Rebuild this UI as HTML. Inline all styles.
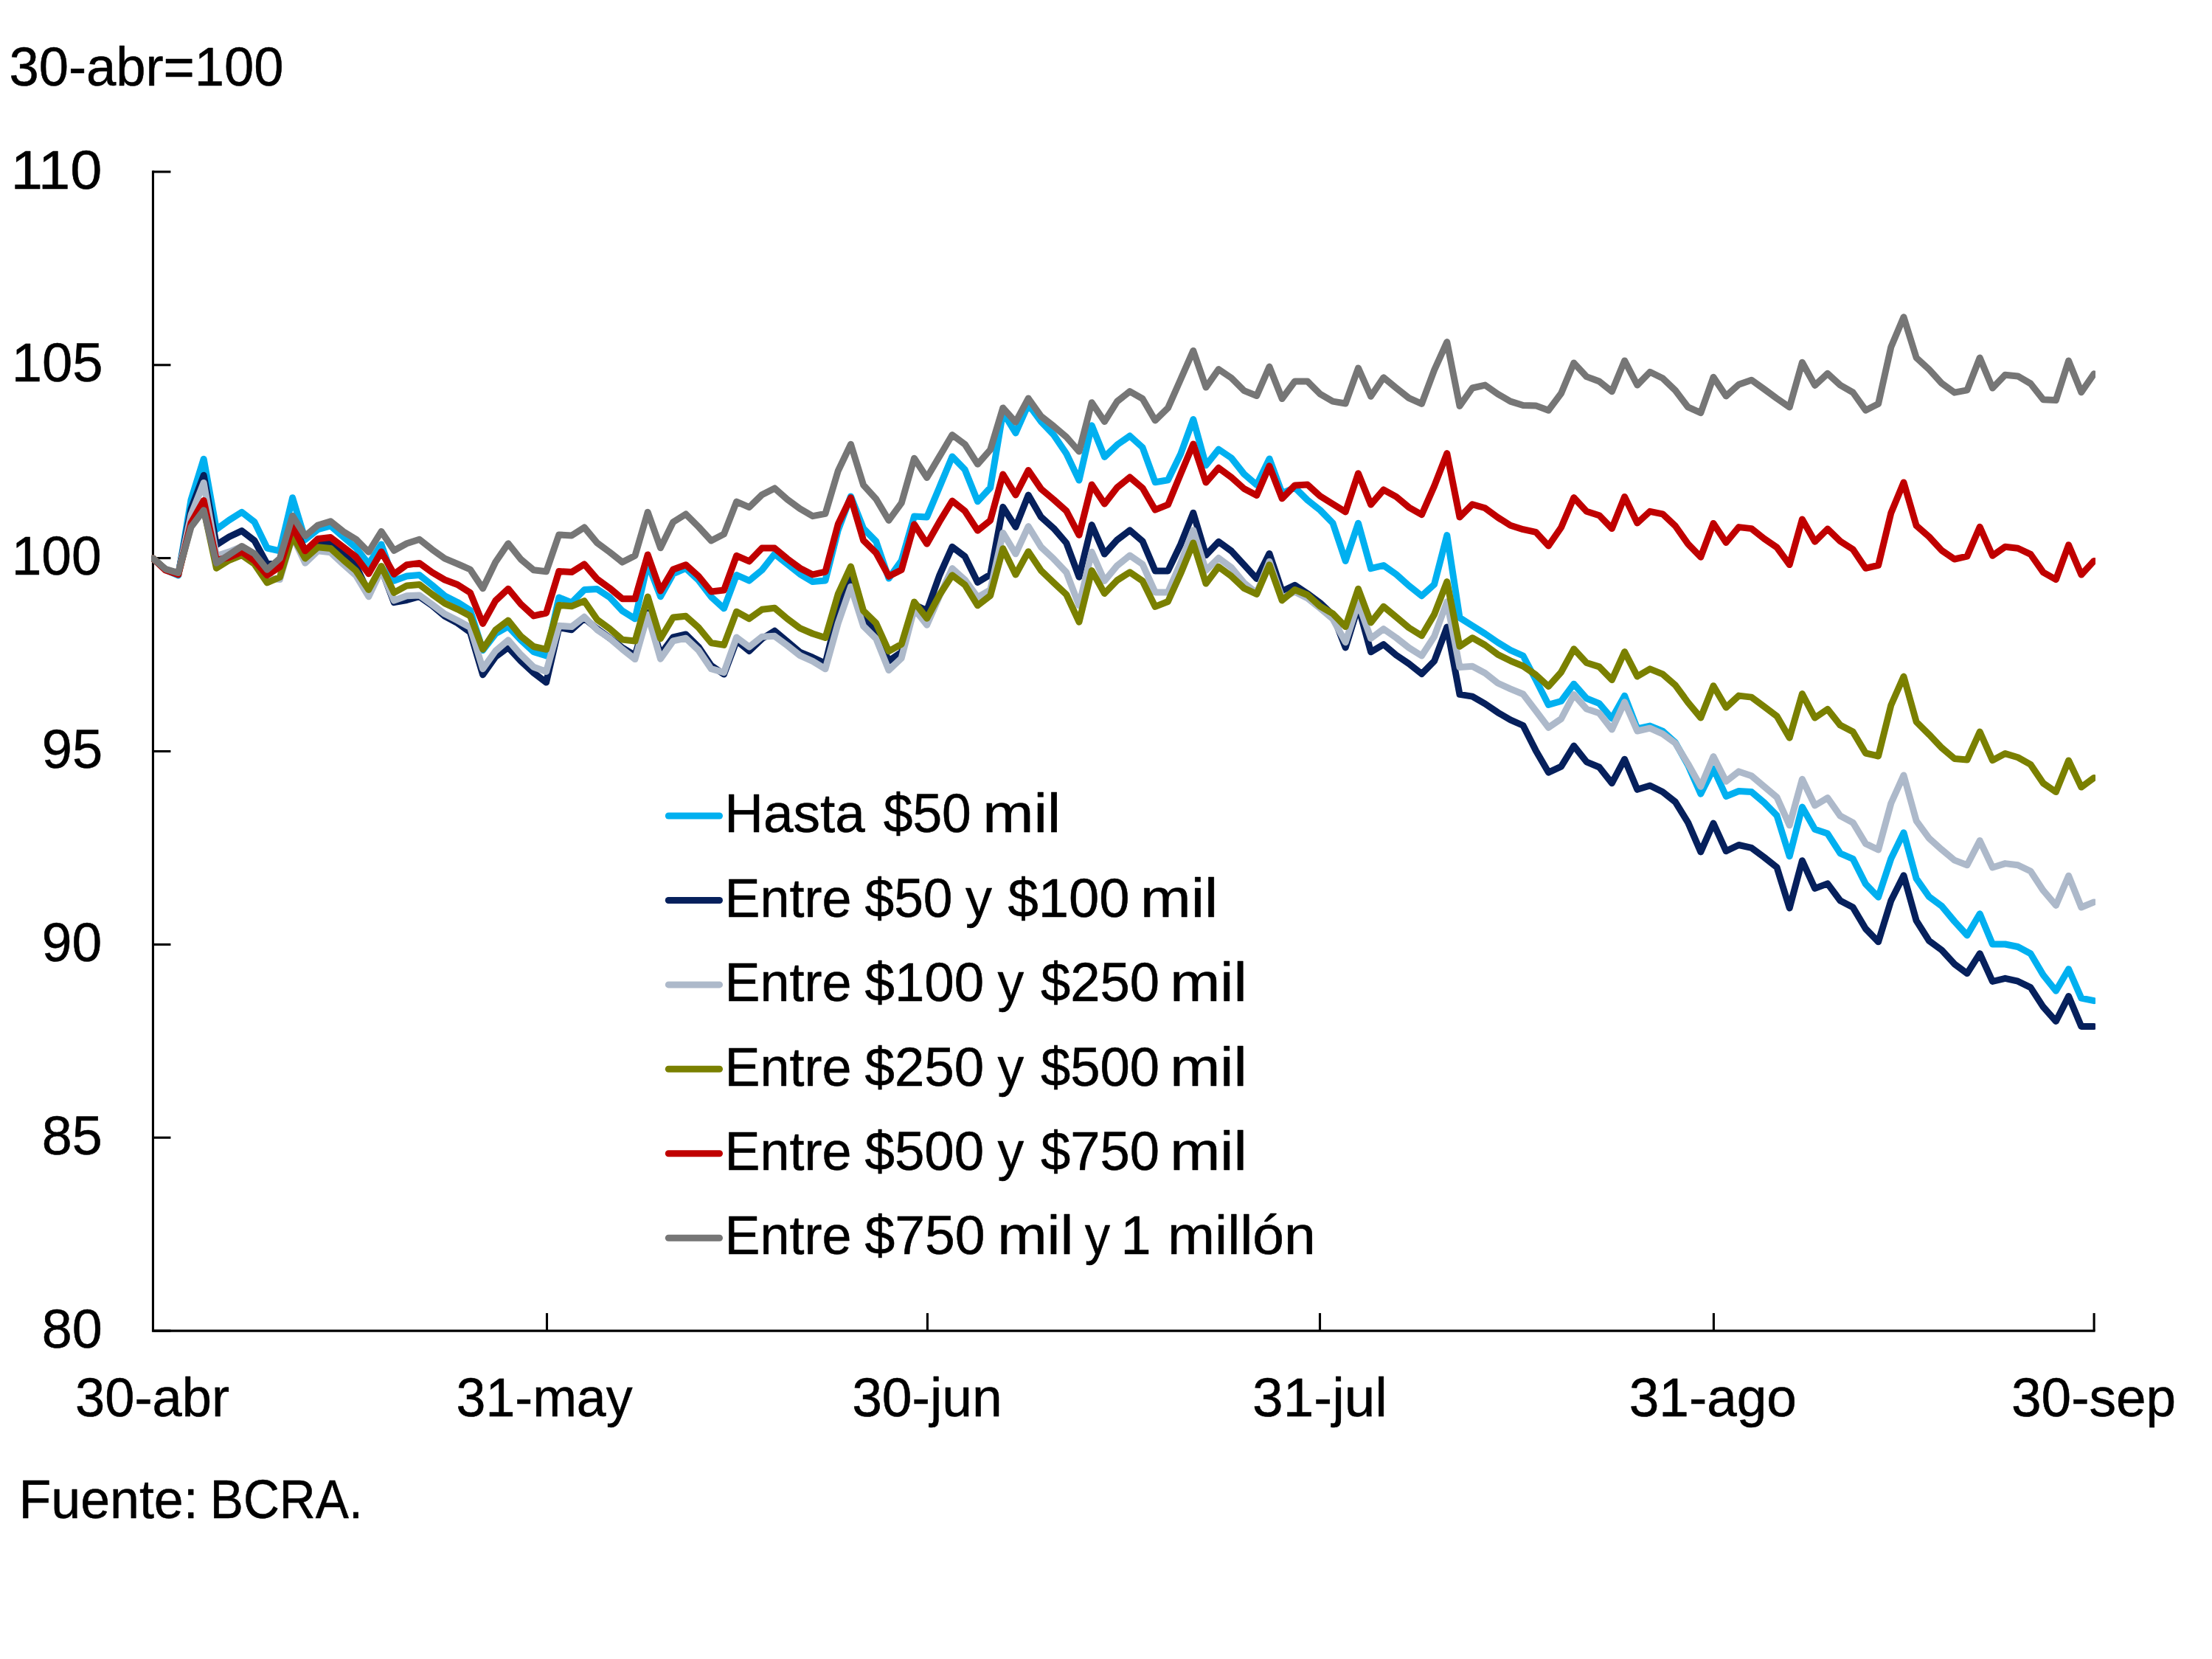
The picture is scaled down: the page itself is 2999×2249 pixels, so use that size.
<!DOCTYPE html>
<html lang="es"><head><meta charset="utf-8"><title>Gráfico</title>
<style>html,body{margin:0;padding:0;background:#fff;overflow:hidden}body{width:2999px;height:2249px;overflow:hidden}svg{display:block}</style>
</head><body>
<svg width="2999" height="2249" viewBox="0 0 2999 2249">
<defs><clipPath id="plot"><rect x="205" y="200" width="2636" height="1620"/></clipPath></defs>
<rect width="2999" height="2249" fill="#fff"/>
<g stroke="#000" stroke-width="3.1" fill="none" stroke-linecap="butt">
<path d="M207.45 231.35 V1804.1 H2840.6" stroke-linejoin="miter"/>
<path d="M207.45 232.9 h24"/>
<path d="M207.45 494.8 h24"/>
<path d="M207.45 756.6 h24"/>
<path d="M207.45 1018.5 h24"/>
<path d="M207.45 1280.4 h24"/>
<path d="M207.45 1542.2 h24"/>
<path d="M207.45 1804.1 h24"/>
<path d="M741.5 1804.1 v-24"/>
<path d="M1257.4 1804.1 v-24"/>
<path d="M1789.5 1804.1 v-24"/>
<path d="M2323.4 1804.1 v-24"/>
<path d="M2839.1 1804.1 v-24"/>
</g>
<g fill="none" stroke-width="9" stroke-linejoin="round" stroke-linecap="round" clip-path="url(#plot)">
<polyline stroke="#00B0F0" points="207.4,757.0 224.6,772.6 241.8,780.0 259.0,677.5 276.2,622.2 293.4,717.7 310.6,705.1 327.8,694.3 345.0,707.6 362.2,743.0 379.4,746.8 396.6,674.7 413.8,731.6 431.0,717.7 448.2,712.8 465.4,728.0 482.6,742.6 499.8,764.6 517.0,737.9 534.2,787.2 551.5,780.9 568.6,779.4 585.8,793.2 603.0,807.7 620.2,816.4 637.5,827.4 654.6,881.6 671.8,859.2 689.0,849.4 706.2,867.8 723.5,883.8 740.6,888.9 757.8,810.0 775.0,817.0 792.2,799.6 809.5,798.4 826.6,809.7 843.8,828.2 861.0,838.8 878.2,763.6 895.5,808.7 912.6,778.0 929.8,770.5 947.0,786.5 964.2,809.1 981.5,824.8 998.6,779.5 1015.8,787.1 1033.0,772.9 1050.2,751.0 1067.5,764.8 1084.6,778.3 1101.8,788.6 1119.0,786.9 1136.2,719.0 1153.5,672.9 1170.6,716.3 1187.8,734.0 1205.0,784.1 1222.2,760.0 1239.5,699.9 1256.7,701.0 1273.8,660.2 1291.0,618.9 1308.2,636.7 1325.5,679.8 1342.7,661.1 1359.8,558.9 1377.0,587.0 1394.2,548.1 1411.5,571.6 1428.7,589.7 1445.8,615.0 1463.0,651.1 1480.2,576.8 1497.5,619.4 1514.7,602.9 1531.8,591.0 1549.0,606.5 1566.2,653.7 1583.5,650.8 1600.7,615.5 1617.8,568.5 1635.0,630.8 1652.2,609.1 1669.5,620.9 1686.7,642.6 1703.8,657.4 1721.0,621.9 1738.2,668.6 1755.5,661.0 1772.7,678.0 1789.8,691.5 1807.0,709.1 1824.2,760.4 1841.5,709.2 1858.6,770.7 1875.8,766.5 1893.0,778.7 1910.2,794.0 1927.5,807.8 1944.6,792.2 1961.8,725.5 1979.0,837.4 1996.2,848.3 2013.5,859.1 2030.6,870.9 2047.8,881.3 2065.0,889.0 2082.2,921.5 2099.4,955.4 2116.6,950.5 2133.8,927.2 2151.0,946.8 2168.2,953.6 2185.4,973.9 2202.6,943.2 2219.8,987.8 2237.0,984.1 2254.2,991.1 2271.4,1006.6 2288.6,1037.3 2305.8,1076.2 2323.0,1041.9 2340.2,1079.5 2357.4,1072.5 2374.6,1073.5 2391.8,1088.0 2409.0,1105.5 2426.2,1160.8 2443.4,1094.0 2460.6,1124.2 2477.8,1130.1 2495.0,1156.8 2512.2,1164.4 2529.4,1198.4 2546.6,1216.2 2563.8,1164.0 2581.0,1128.7 2598.2,1191.2 2615.4,1215.6 2632.6,1228.3 2649.8,1249.0 2667.0,1267.9 2684.2,1238.8 2701.4,1280.0 2718.6,1280.0 2735.8,1283.5 2753.0,1292.8 2770.2,1321.7 2787.4,1343.3 2804.6,1313.7 2821.8,1353.1 2839.0,1356.7"/>
<polyline stroke="#06205C" points="207.4,757.0 224.6,772.1 241.8,778.0 259.0,690.0 276.2,644.3 293.4,738.6 310.6,727.8 327.8,719.6 345.0,732.9 362.2,764.6 379.4,764.6 396.6,708.0 413.8,747.0 431.0,736.1 448.2,736.7 465.4,751.3 482.6,767.0 499.8,803.8 517.0,771.2 534.2,816.7 551.5,813.5 568.6,808.7 585.8,820.7 603.0,835.2 620.2,844.6 637.5,857.0 654.6,914.7 671.8,890.5 689.0,877.7 706.2,896.2 723.5,912.2 740.6,925.1 757.8,850.8 775.0,853.7 792.2,838.1 809.5,852.5 826.6,865.0 843.8,878.0 861.0,888.5 878.2,830.5 895.5,887.1 912.6,863.8 929.8,859.9 947.0,876.9 964.2,902.2 981.5,914.1 998.6,868.6 1015.8,882.5 1033.0,866.0 1050.2,855.2 1067.5,869.7 1084.6,884.1 1101.8,891.2 1119.0,899.3 1136.2,829.0 1153.5,785.2 1170.6,839.4 1187.8,857.0 1205.0,896.0 1222.2,884.1 1239.5,819.8 1256.7,827.6 1273.8,779.8 1291.0,741.3 1308.2,754.4 1325.5,789.4 1342.7,778.9 1359.8,687.3 1377.0,714.4 1394.2,671.1 1411.5,700.9 1428.7,716.3 1445.8,736.1 1463.0,782.2 1480.2,711.5 1497.5,751.1 1514.7,731.8 1531.8,718.9 1549.0,733.6 1566.2,773.9 1583.5,773.9 1600.7,738.0 1617.8,695.2 1635.0,752.6 1652.2,734.4 1669.5,747.0 1686.7,765.8 1703.8,784.5 1721.0,750.4 1738.2,801.6 1755.5,793.2 1772.7,804.7 1789.8,817.3 1807.0,833.6 1824.2,877.9 1841.5,821.9 1858.6,883.8 1875.8,873.6 1893.0,888.1 1910.2,899.8 1927.5,913.6 1944.6,896.2 1961.8,850.1 1979.0,941.4 1996.2,944.1 2013.5,954.1 2030.6,965.8 2047.8,975.8 2065.0,983.5 2082.2,1017.4 2099.4,1047.1 2116.6,1039.1 2133.8,1011.1 2151.0,1032.8 2168.2,1040.0 2185.4,1061.7 2202.6,1029.2 2219.8,1070.3 2237.0,1065.0 2254.2,1073.5 2271.4,1087.1 2288.6,1115.1 2305.8,1154.9 2323.0,1116.0 2340.2,1153.8 2357.4,1145.5 2374.6,1149.4 2391.8,1162.1 2409.0,1175.7 2426.2,1231.0 2443.4,1166.7 2460.6,1204.4 2477.8,1197.9 2495.0,1221.0 2512.2,1230.1 2529.4,1259.0 2546.6,1276.8 2563.8,1221.0 2581.0,1186.7 2598.2,1248.2 2615.4,1275.3 2632.6,1288.0 2649.8,1306.8 2667.0,1319.6 2684.2,1292.7 2701.4,1330.5 2718.6,1326.3 2735.8,1330.2 2753.0,1338.6 2770.2,1365.1 2787.4,1384.5 2804.6,1350.6 2821.8,1391.5 2839.0,1391.5"/>
<polyline stroke="#ADB9CA" points="207.4,757.0 224.6,772.1 241.8,778.0 259.0,698.0 276.2,654.4 293.4,753.8 310.6,748.1 327.8,741.0 345.0,751.0 362.2,784.0 379.4,785.4 396.6,727.0 413.8,763.3 431.0,746.8 448.2,748.9 465.4,765.0 482.6,780.2 499.8,808.8 517.0,772.6 534.2,814.0 551.5,807.7 568.6,806.9 585.8,819.3 603.0,832.3 620.2,841.0 637.5,850.5 654.6,906.7 671.8,882.5 689.0,867.8 706.2,887.6 723.5,904.2 740.6,910.5 757.8,848.3 775.0,849.6 792.2,836.3 809.5,853.7 826.6,865.4 843.8,880.1 861.0,893.6 878.2,833.3 895.5,893.2 912.6,868.8 929.8,865.2 947.0,881.4 964.2,906.7 981.5,911.6 998.6,864.1 1015.8,877.0 1033.0,863.3 1050.2,862.3 1067.5,875.1 1084.6,888.6 1101.8,896.4 1119.0,906.8 1136.2,845.0 1153.5,795.2 1170.6,848.8 1187.8,865.8 1205.0,908.6 1222.2,892.2 1239.5,825.4 1256.7,847.2 1273.8,808.0 1291.0,770.6 1308.2,786.0 1325.5,809.6 1342.7,799.7 1359.8,722.4 1377.0,750.8 1394.2,713.6 1411.5,741.6 1428.7,757.8 1445.8,775.9 1463.0,820.8 1480.2,748.2 1497.5,787.5 1514.7,766.7 1531.8,753.0 1549.0,764.9 1566.2,802.9 1583.5,802.9 1600.7,763.0 1617.8,718.7 1635.0,773.3 1652.2,756.5 1669.5,769.4 1686.7,790.2 1703.8,804.0 1721.0,761.2 1738.2,810.6 1755.5,802.3 1772.7,811.0 1789.8,824.6 1807.0,839.0 1824.2,870.7 1841.5,817.3 1858.6,865.5 1875.8,852.6 1893.0,864.6 1910.2,878.1 1927.5,889.0 1944.6,862.7 1961.8,815.7 1979.0,904.4 1996.2,903.3 2013.5,912.5 2030.6,926.0 2047.8,933.8 2065.0,941.0 2082.2,963.6 2099.4,986.3 2116.6,974.5 2133.8,941.6 2151.0,960.9 2168.2,966.8 2185.4,988.9 2202.6,951.8 2219.8,991.0 2237.0,987.2 2254.2,994.8 2271.4,1007.5 2288.6,1035.5 2305.8,1066.2 2323.0,1025.6 2340.2,1059.2 2357.4,1045.9 2374.6,1051.8 2391.8,1066.3 2409.0,1080.7 2426.2,1118.8 2443.4,1056.3 2460.6,1092.0 2477.8,1081.7 2495.0,1106.1 2512.2,1115.2 2529.4,1143.6 2546.6,1152.0 2563.8,1089.0 2581.0,1050.9 2598.2,1112.9 2615.4,1136.4 2632.6,1151.8 2649.8,1166.1 2667.0,1172.7 2684.2,1139.6 2701.4,1176.0 2718.6,1170.6 2735.8,1172.7 2753.0,1181.0 2770.2,1207.2 2787.4,1227.4 2804.6,1187.2 2821.8,1230.0 2839.0,1222.9"/>
<polyline stroke="#7A8000" points="207.4,757.0 224.6,772.1 241.8,778.0 259.0,712.0 276.2,690.0 293.4,770.3 310.6,759.5 327.8,752.5 345.0,764.6 362.2,789.9 379.4,782.3 396.6,726.6 413.8,757.0 431.0,741.8 448.2,743.4 465.4,759.0 482.6,773.7 499.8,799.4 517.0,767.5 534.2,803.4 551.5,793.9 568.6,792.4 585.8,805.5 603.0,817.8 620.2,825.8 637.5,835.0 654.6,880.2 671.8,854.2 689.0,841.1 706.2,862.5 723.5,876.5 740.6,880.3 757.8,820.4 775.0,821.8 792.2,814.7 809.5,839.8 826.6,852.4 843.8,867.1 861.0,869.0 878.2,809.0 895.5,865.8 912.6,837.0 929.8,835.3 947.0,850.7 964.2,871.5 981.5,874.4 998.6,829.2 1015.8,838.7 1033.0,826.3 1050.2,824.2 1067.5,838.9 1084.6,851.6 1101.8,859.0 1119.0,864.5 1136.2,805.4 1153.5,768.0 1170.6,828.0 1187.8,844.8 1205.0,882.9 1222.2,873.3 1239.5,816.0 1256.7,838.3 1273.8,806.5 1291.0,779.8 1308.2,792.8 1325.5,820.8 1342.7,807.4 1359.8,743.7 1377.0,779.0 1394.2,747.7 1411.5,773.5 1428.7,790.0 1445.8,806.0 1463.0,843.2 1480.2,773.5 1497.5,804.5 1514.7,786.6 1531.8,775.7 1549.0,787.5 1566.2,822.4 1583.5,815.5 1600.7,777.5 1617.8,736.0 1635.0,791.1 1652.2,768.3 1669.5,781.2 1686.7,797.4 1703.8,805.4 1721.0,765.8 1738.2,813.9 1755.5,799.5 1772.7,806.5 1789.8,821.8 1807.0,831.8 1824.2,849.6 1841.5,798.3 1858.6,844.0 1875.8,822.2 1893.0,836.5 1910.2,851.0 1927.5,861.8 1944.6,832.9 1961.8,788.6 1979.0,876.3 1996.2,864.7 2013.5,874.5 2030.6,887.2 2047.8,895.8 2065.0,903.0 2082.2,914.8 2099.4,930.5 2116.6,911.2 2133.8,879.8 2151.0,898.5 2168.2,903.9 2185.4,921.7 2202.6,883.6 2219.8,916.9 2237.0,906.9 2254.2,913.9 2271.4,928.8 2288.6,952.3 2305.8,973.0 2323.0,929.7 2340.2,959.1 2357.4,943.1 2374.6,945.1 2391.8,957.8 2409.0,970.8 2426.2,1000.2 2443.4,940.6 2460.6,973.1 2477.8,961.4 2495.0,983.1 2512.2,992.1 2529.4,1021.0 2546.6,1025.0 2563.8,956.0 2581.0,917.1 2598.2,978.6 2615.4,995.7 2632.6,1013.8 2649.8,1028.4 2667.0,1030.1 2684.2,992.0 2701.4,1030.7 2718.6,1021.6 2735.8,1026.8 2753.0,1036.4 2770.2,1061.7 2787.4,1073.6 2804.6,1031.0 2821.8,1067.1 2839.0,1054.5"/>
<polyline stroke="#C00000" points="207.4,757.0 224.6,773.1 241.8,779.0 259.0,709.0 276.2,678.5 293.4,759.5 310.6,755.7 327.8,748.1 345.0,760.1 362.2,779.7 379.4,768.4 396.6,713.9 413.8,746.8 431.0,730.4 448.2,728.6 465.4,741.5 482.6,754.9 499.8,777.7 517.0,748.0 534.2,778.3 551.5,765.7 568.6,763.4 585.8,775.9 603.0,786.0 620.2,792.5 637.5,803.5 654.6,845.4 671.8,814.4 689.0,798.2 706.2,819.0 723.5,834.9 740.6,831.0 757.8,774.6 775.0,775.6 792.2,764.9 809.5,785.0 826.6,797.3 843.8,811.7 861.0,811.7 878.2,751.9 895.5,801.1 912.6,771.9 929.8,765.7 947.0,781.0 964.2,802.0 981.5,800.0 998.6,753.3 1015.8,760.9 1033.0,743.1 1050.2,743.1 1067.5,757.5 1084.6,770.2 1101.8,778.9 1119.0,775.1 1136.2,710.8 1153.5,674.7 1170.6,732.5 1187.8,749.5 1205.0,781.2 1222.2,772.6 1239.5,710.8 1256.7,737.2 1273.8,707.2 1291.0,679.0 1308.2,692.7 1325.5,719.2 1342.7,705.4 1359.8,643.0 1377.0,671.0 1394.2,637.6 1411.5,662.9 1428.7,677.4 1445.8,692.7 1463.0,725.3 1480.2,656.9 1497.5,683.0 1514.7,660.7 1531.8,647.0 1549.0,661.6 1566.2,691.2 1583.5,684.2 1600.7,642.6 1617.8,602.0 1635.0,654.1 1652.2,634.3 1669.5,647.2 1686.7,662.5 1703.8,671.4 1721.0,631.8 1738.2,675.8 1755.5,658.0 1772.7,657.0 1789.8,672.5 1807.0,683.3 1824.2,693.9 1841.5,641.7 1858.6,684.0 1875.8,664.0 1893.0,673.4 1910.2,687.8 1927.5,697.7 1944.6,658.9 1961.8,614.6 1979.0,701.0 1996.2,683.8 2013.5,688.8 2030.6,701.4 2047.8,712.3 2065.0,717.7 2082.2,721.3 2099.4,740.0 2116.6,715.0 2133.8,674.6 2151.0,693.3 2168.2,698.7 2185.4,716.5 2202.6,673.4 2219.8,709.0 2237.0,693.3 2254.2,696.8 2271.4,713.0 2288.6,737.4 2305.8,755.2 2323.0,709.4 2340.2,735.5 2357.4,714.6 2374.6,716.6 2391.8,730.2 2409.0,742.0 2426.2,765.5 2443.4,704.0 2460.6,734.2 2477.8,717.1 2495.0,733.8 2512.2,744.7 2529.4,770.3 2546.6,766.4 2563.8,695.5 2581.0,654.0 2598.2,712.7 2615.4,727.6 2632.6,746.2 2649.8,758.0 2667.0,754.1 2684.2,714.3 2701.4,753.3 2718.6,741.2 2735.8,743.2 2753.0,751.4 2770.2,775.8 2787.4,785.6 2804.6,738.7 2821.8,779.1 2839.0,760.4"/>
<polyline stroke="#767676" points="207.4,757.0 224.6,771.6 241.8,776.6 259.0,714.5 276.2,691.8 293.4,763.3 310.6,751.9 327.8,740.5 345.0,750.6 362.2,772.2 379.4,757.0 396.6,699.4 413.8,726.6 431.0,712.0 448.2,706.7 465.4,720.6 482.6,731.0 499.8,748.3 517.0,720.5 534.2,746.3 551.5,736.8 568.6,731.2 585.8,744.8 603.0,757.1 620.2,764.3 637.5,772.0 654.6,797.8 671.8,762.0 689.0,736.8 706.2,758.3 723.5,772.8 740.6,774.8 757.8,724.9 775.0,726.0 792.2,715.0 809.5,735.8 826.6,748.5 843.8,762.1 861.0,753.3 878.2,694.3 895.5,742.8 912.6,707.8 929.8,697.0 947.0,714.1 964.2,732.9 981.5,724.1 998.6,680.1 1015.8,687.6 1033.0,670.7 1050.2,661.9 1067.5,677.1 1084.6,689.7 1101.8,699.7 1119.0,696.3 1136.2,638.5 1153.5,602.3 1170.6,657.5 1187.8,676.5 1205.0,705.4 1222.2,681.9 1239.5,621.3 1256.7,647.5 1273.8,618.6 1291.0,589.5 1308.2,602.3 1325.5,629.2 1342.7,609.6 1359.8,552.9 1377.0,572.2 1394.2,540.0 1411.5,564.4 1428.7,577.9 1445.8,592.4 1463.0,612.1 1480.2,545.7 1497.5,571.5 1514.7,544.1 1531.8,530.6 1549.0,540.5 1566.2,569.9 1583.5,553.1 1600.7,514.2 1617.8,475.4 1635.0,525.1 1652.2,500.6 1669.5,512.4 1686.7,529.6 1703.8,536.5 1721.0,497.1 1738.2,540.5 1755.5,517.0 1772.7,517.0 1789.8,534.1 1807.0,544.1 1824.2,547.0 1841.5,498.9 1858.6,537.3 1875.8,511.8 1893.0,526.0 1910.2,539.6 1927.5,547.4 1944.6,501.6 1961.8,463.6 1979.0,550.4 1996.2,526.0 2013.5,522.1 2030.6,534.1 2047.8,544.1 2065.0,549.5 2082.2,549.9 2099.4,556.3 2116.6,533.2 2133.8,492.0 2151.0,510.6 2168.2,517.0 2185.4,530.7 2202.6,488.9 2219.8,522.0 2237.0,504.3 2254.2,512.7 2271.4,529.3 2288.6,551.9 2305.8,559.7 2323.0,511.2 2340.2,536.9 2357.4,521.2 2374.6,515.2 2391.8,527.5 2409.0,540.1 2426.2,552.0 2443.4,491.3 2460.6,522.4 2477.8,506.4 2495.0,522.1 2512.2,532.0 2529.4,556.2 2546.6,547.4 2563.8,470.5 2581.0,429.8 2598.2,485.0 2615.4,500.7 2632.6,519.7 2649.8,532.2 2667.0,528.8 2684.2,485.0 2701.4,526.1 2718.6,508.2 2735.8,509.9 2753.0,520.0 2770.2,541.7 2787.4,542.5 2804.6,489.1 2821.8,531.8 2839.0,506.7"/>
</g>
<g fill="none" stroke-width="9" stroke-linecap="round">
<path stroke="#00B0F0" d="M906.3 1106 H975.5"/>
<path stroke="#06205C" d="M906.3 1220.5 H975.5"/>
<path stroke="#ADB9CA" d="M906.3 1334.9 H975.5"/>
<path stroke="#7A8000" d="M906.3 1449.3 H975.5"/>
<path stroke="#C00000" d="M906.3 1563.7 H975.5"/>
<path stroke="#767676" d="M906.3 1678.2 H975.5"/>
</g>
<g font-family="'Liberation Sans', Arial, sans-serif" font-size="75" fill="#000" stroke="#000" stroke-width="0.55" stroke-linejoin="round">
<text y="116.3"><tspan x="12.51" textLength="372.03" lengthAdjust="spacingAndGlyphs">30-abr=100</tspan></text>
<text y="255.5"><tspan x="14.73" textLength="123.53" lengthAdjust="spacingAndGlyphs">110</tspan></text>
<text y="517.4"><tspan x="15.66" textLength="123.75" lengthAdjust="spacingAndGlyphs">105</tspan></text>
<text y="779.2"><tspan x="15.73" textLength="121.96" lengthAdjust="spacingAndGlyphs">100</tspan></text>
<text y="1041.1"><tspan x="56.74" textLength="82.37" lengthAdjust="spacingAndGlyphs">95</tspan></text>
<text y="1303.0"><tspan x="56.77" textLength="81.41" lengthAdjust="spacingAndGlyphs">90</tspan></text>
<text y="1564.8"><tspan x="56.75" textLength="81.94" lengthAdjust="spacingAndGlyphs">85</tspan></text>
<text y="1826.7"><tspan x="56.75" textLength="81.94" lengthAdjust="spacingAndGlyphs">80</tspan></text>
<text y="1920.3"><tspan x="102.01" textLength="209.06" lengthAdjust="spacingAndGlyphs">30-abr</tspan></text>
<text y="1920.3"><tspan x="618.53" textLength="239.06" lengthAdjust="spacingAndGlyphs">31-may</tspan></text>
<text y="1920.3"><tspan x="1155.17" textLength="203.51" lengthAdjust="spacingAndGlyphs">30-jun</tspan></text>
<text y="1920.3"><tspan x="1698.11" textLength="182.81" lengthAdjust="spacingAndGlyphs">31-jul</tspan></text>
<text y="1920.3"><tspan x="2208.78" textLength="227.09" lengthAdjust="spacingAndGlyphs">31-ago</tspan></text>
<text y="1920.3"><tspan x="2726.98" textLength="223.16" lengthAdjust="spacingAndGlyphs">30-sep</tspan></text>
<text y="2058.0"><tspan x="25.57" textLength="243.10" lengthAdjust="spacingAndGlyphs">Fuente:</tspan> <tspan x="284.78" textLength="206.93" lengthAdjust="spacingAndGlyphs">BCRA.</tspan></text>
<text y="1128.3"><tspan x="982.37" textLength="190.37" lengthAdjust="spacingAndGlyphs">Hasta</tspan> <tspan x="1197.75" textLength="118.99" lengthAdjust="spacingAndGlyphs">$50</tspan> <tspan x="1332.16" textLength="106.17" lengthAdjust="spacingAndGlyphs">mil</tspan></text>
<text y="1242.8"><tspan x="982.44" textLength="171.99" lengthAdjust="spacingAndGlyphs">Entre</tspan> <tspan x="1172.55" textLength="118.99" lengthAdjust="spacingAndGlyphs">$50</tspan> <tspan x="1309.00" textLength="35.98" lengthAdjust="spacingAndGlyphs">y</tspan> <tspan x="1366.41" textLength="165.02" lengthAdjust="spacingAndGlyphs">$100</tspan> <tspan x="1546.11" textLength="105.28" lengthAdjust="spacingAndGlyphs">mil</tspan></text>
<text y="1357.2"><tspan x="982.44" textLength="171.99" lengthAdjust="spacingAndGlyphs">Entre</tspan> <tspan x="1172.53" textLength="161.64" lengthAdjust="spacingAndGlyphs">$100</tspan> <tspan x="1352.60" textLength="35.68" lengthAdjust="spacingAndGlyphs">y</tspan> <tspan x="1410.93" textLength="161.23" lengthAdjust="spacingAndGlyphs">$250</tspan> <tspan x="1586.25" textLength="104.39" lengthAdjust="spacingAndGlyphs">mil</tspan></text>
<text y="1471.6"><tspan x="982.44" textLength="171.99" lengthAdjust="spacingAndGlyphs">Entre</tspan> <tspan x="1172.53" textLength="161.64" lengthAdjust="spacingAndGlyphs">$250</tspan> <tspan x="1352.60" textLength="35.68" lengthAdjust="spacingAndGlyphs">y</tspan> <tspan x="1410.93" textLength="161.23" lengthAdjust="spacingAndGlyphs">$500</tspan> <tspan x="1586.25" textLength="104.39" lengthAdjust="spacingAndGlyphs">mil</tspan></text>
<text y="1586.0"><tspan x="982.44" textLength="171.99" lengthAdjust="spacingAndGlyphs">Entre</tspan> <tspan x="1172.53" textLength="161.64" lengthAdjust="spacingAndGlyphs">$500</tspan> <tspan x="1352.60" textLength="35.68" lengthAdjust="spacingAndGlyphs">y</tspan> <tspan x="1410.93" textLength="161.23" lengthAdjust="spacingAndGlyphs">$750</tspan> <tspan x="1586.25" textLength="104.39" lengthAdjust="spacingAndGlyphs">mil</tspan></text>
<text y="1700.4"><tspan x="982.44" textLength="171.99" lengthAdjust="spacingAndGlyphs">Entre</tspan> <tspan x="1172.52" textLength="163.07" lengthAdjust="spacingAndGlyphs">$750</tspan> <tspan x="1352.21" textLength="103.28" lengthAdjust="spacingAndGlyphs">mil</tspan> <tspan x="1470.70" textLength="34.36" lengthAdjust="spacingAndGlyphs">y</tspan> <tspan x="1519.58" textLength="41.09" lengthAdjust="spacingAndGlyphs">1</tspan> <tspan x="1583.08" textLength="200.74" lengthAdjust="spacingAndGlyphs">millón</tspan></text>
</g>
</svg>
</body></html>
